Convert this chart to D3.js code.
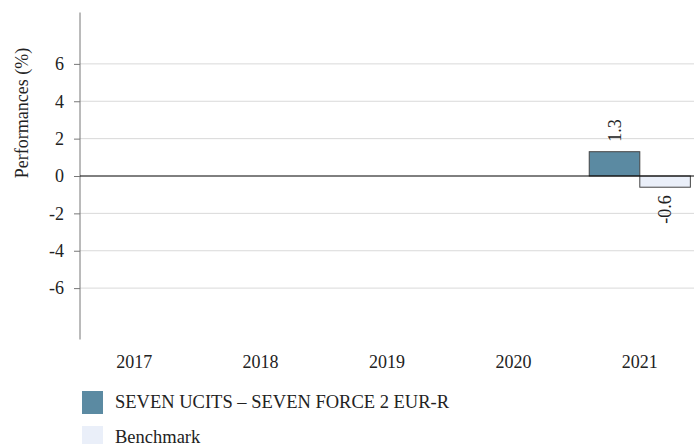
<!DOCTYPE html>
<html>
<head>
<meta charset="utf-8">
<script src="https://cdn.jsdelivr.net/npm/d3@7"></script>
<style>
  body { margin: 0; background: #fff; }
  svg { display: block; font-family: "Liberation Serif", "DejaVu Serif", serif; }
</style>
</head>
<body>
<div id="vis"></div>
<script>
// Data
const years = ["2017", "2018", "2019", "2020", "2021"];
const seriesNames = ["SEVEN UCITS \u2013 SEVEN FORCE 2 EUR-R", "Benchmark"];
const fundValues = [null, null, null, null, 1.3];
const benchValues = [null, null, null, null, -0.6];
const yTicks = [-6, -4, -2, 0, 2, 4, 6];

const width = 694;
const height = 444;
const margin = { top: 12.5, right: 0, bottom: 104.5, left: 80 };

const colors = ["#5b8aa2", "#eaeff9"];

const svg = d3.select("#vis")
  .append("svg")
  .attr("width", width)
  .attr("height", height);

// Scales
const x = d3.scaleBand()
  .domain(years)
  .range([71, 703])
  .paddingInner(0.2)
  .paddingOuter(0.1);

const sub = d3.scaleBand()
  .domain([0, 1])
  .range([0, x.bandwidth()]);

const y = d3.scaleLinear()
  .domain([-8.75, 8.75])
  .range([height - margin.bottom, margin.top]);

// Grid
svg.append("g")
  .selectAll("line")
  .data(yTicks.filter(d => d !== 0))
  .enter()
  .append("line")
  .attr("x1", margin.left)
  .attr("x2", width)
  .attr("y1", d => y(d))
  .attr("y2", d => y(d))
  .attr("stroke", "#d9d9d9")
  .attr("stroke-width", 1);

// Y axis
const yAxis = svg.append("g")
  .attr("transform", `translate(${margin.left},0)`)
  .call(d3.axisLeft(y).tickValues(yTicks).tickSize(6).tickPadding(10).tickFormat(d => String(d)));
yAxis.select(".domain").attr("stroke", "#777").attr("d", `M0,${y.range()[0]}V${y.range()[1]}`);
yAxis.selectAll(".tick line").attr("stroke", "#777");
yAxis.selectAll(".tick text")
  .attr("fill", "#222")
  .attr("font-size", "18px")
  .attr("font-family", "Liberation Serif, serif");

svg.append("text")
  .attr("transform", "rotate(-90)")
  .attr("x", -113)
  .attr("y", 28)
  .attr("text-anchor", "middle")
  .attr("font-size", "18px")
  .attr("fill", "#222")
  .text("Performances (%)");

// X labels
svg.append("g")
  .selectAll("text")
  .data(years)
  .enter()
  .append("text")
  .attr("x", d => x(d) + x.bandwidth() / 2)
  .attr("y", 368)
  .attr("text-anchor", "middle")
  .attr("font-size", "18px")
  .attr("fill", "#222")
  .text(d => d);

// Bars
const series = [fundValues, benchValues];
series.forEach((vals, i) => {
  const pts = years.map((yr, j) => ({ year: yr, v: vals[j] })).filter(d => d.v !== null);
  const g = svg.append("g");
  g.selectAll("rect")
    .data(pts)
    .enter()
    .append("rect")
    .attr("x", d => x(d.year) + sub(i))
    .attr("width", sub.bandwidth())
    .attr("y", d => y(Math.max(0, d.v)))
    .attr("height", d => Math.abs(y(d.v) - y(0)))
    .attr("fill", colors[i])
    .attr("stroke", "#444")
    .attr("stroke-width", 1);

  g.selectAll("text")
    .data(pts)
    .enter()
    .append("text")
    .attr("transform", d => {
      const cx = x(d.year) + sub(i) + sub.bandwidth() / 2;
      const cy = d.v >= 0 ? y(d.v) - 10 : y(d.v) + 8;
      return `translate(${cx + 6},${cy}) rotate(-90)`;
    })
    .attr("text-anchor", d => d.v >= 0 ? "start" : "end")
    .attr("font-size", "18px")
    .attr("fill", "#222")
    .text(d => d.v.toFixed(1));
});

// Zero line
svg.append("line")
  .attr("x1", margin.left)
  .attr("x2", width)
  .attr("y1", y(0))
  .attr("y2", y(0))
  .attr("stroke", "#000")
  .attr("stroke-width", 1);

// Legend
const legend = svg.append("g").attr("transform", "translate(82,391)");
seriesNames.forEach((name, i) => {
  const item = legend.append("g").attr("transform", `translate(0,${i * 35})`);
  item.append("rect")
    .attr("width", 21)
    .attr("height", 23)
    .attr("fill", colors[i]);
  item.append("text")
    .attr("x", 33)
    .attr("y", 17)
    .attr("font-size", "18.5px")
    .attr("fill", "#222")
    .text(name);
});
</script>
</body>
</html>
